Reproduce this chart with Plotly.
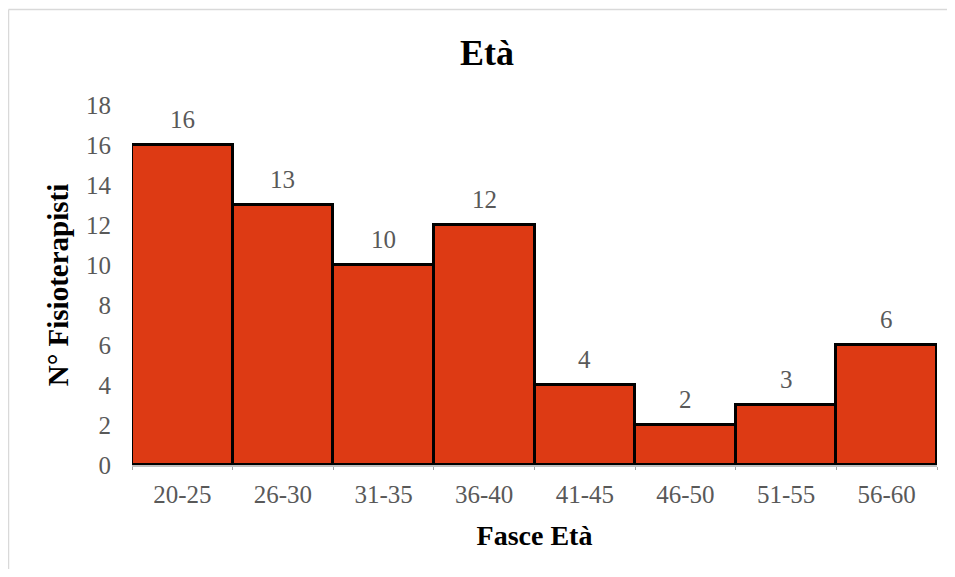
import plotly.graph_objects as go

categories = ["20-25", "26-30", "31-35", "36-40", "41-45", "46-50", "51-55", "56-60"]
values = [16, 13, 10, 12, 4, 2, 3, 6]
y_ticks = list(range(0, 19, 2))

FONT = "Liberation Serif, Times New Roman, serif"
GRAY = "#595959"

# figure sits inside the page body (8px default margin)
W, H = 939, 561
L, R, T, B = 124, 10, 97, 104
pw, ph = W - L - R, H - T - B

fig = go.Figure(go.Bar(
    x=categories, y=values, width=1,
    marker=dict(color="#DD3A14", line=dict(color="black", width=3)),
    hoverinfo="x+y",
))

for c, v in zip(categories, values):
    fig.add_annotation(x=c, y=v, text=str(v), showarrow=False, yanchor="bottom",
                       yshift=10, font=dict(family=FONT, size=25, color=GRAY))

fig.update_layout(
    width=W, height=H,
    margin=dict(l=L, r=R, t=T, b=B),
    plot_bgcolor="white", paper_bgcolor="white",
    title=dict(text="<b>Età</b>", x=479 / W, xanchor="center", y=1 - 44 / H, yanchor="middle",
               font=dict(family=FONT, size=36, color="black")),
    bargap=0,
    showlegend=False,
    xaxis=dict(
        showgrid=False, showline=True, linecolor="#BFBFBF", linewidth=2,
        ticks="outside", tickson="boundaries", ticklen=3, tickcolor="#A6A6A6", tickwidth=1,
        tickfont=dict(family=FONT, size=25, color=GRAY), ticklabelstandoff=6,
        title=dict(text="<b>Fasce Età</b>", font=dict(family=FONT, size=28, color="black"), standoff=18),
    ),
    yaxis=dict(
        range=[0, 18], tickvals=y_ticks, showgrid=False, showline=False, zeroline=False,
        tickfont=dict(family=FONT, size=25, color=GRAY), ticklabelstandoff=20,
        title=dict(text="<b>N° Fisioterapisti</b>", font=dict(family=FONT, size=29, color="black"), standoff=8),
    ),
    shapes=[
        dict(type="line", xref="paper", yref="paper",
             x0=(0.5 - L) / pw, x1=(W - L) / pw, y0=(H - B - 1.5) / ph, y1=(H - B - 1.5) / ph,
             line=dict(color="#D9D9D9", width=1.5), layer="below"),
        dict(type="line", xref="paper", yref="paper",
             x0=(0.5 - L) / pw, x1=(0.5 - L) / pw, y0=(H - B - 1.5) / ph, y1=-B / ph,
             line=dict(color="#D9D9D9", width=1.5), layer="below"),
    ],
)

fig.write_html("out.html")
